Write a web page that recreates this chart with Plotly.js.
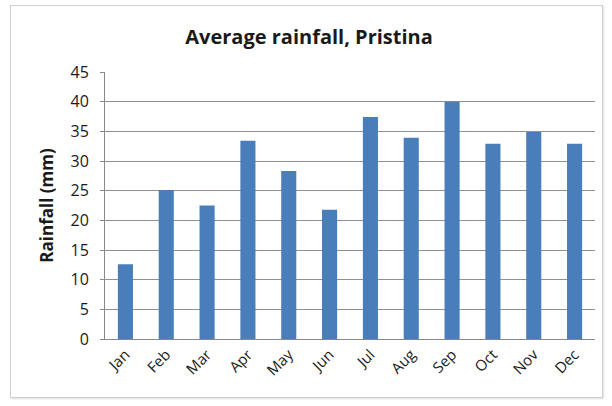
<!DOCTYPE html>
<html><head><meta charset="utf-8">
<script src="https://cdn.plot.ly/plotly-3.0.1.min.js"></script>
<style>
html,body{margin:0;padding:0;background:#fff;}
#wrap{position:relative;width:612px;height:406px;}
#frame{position:absolute;left:10px;top:5px;width:591px;height:391px;border:1px solid #cfcfcf;box-shadow:1px 1px 2px #ddd;pointer-events:none;}
</style>
</head><body>
<div id="wrap"><div id="chart" style="width:612px;height:406px;"></div><div id="frame"></div></div>
<script>
const months = ["Jan","Feb","Mar","Apr","May","Jun","Jul","Aug","Sep","Oct","Nov","Dec"];
const rainfall = [12.6, 25.1, 22.5, 33.4, 28.3, 21.8, 37.4, 33.9, 40.0, 32.9, 34.9, 32.9];
const yTicks = [0,5,10,15,20,25,30,35,40,45];

const font = "Open Sans, Liberation Sans, sans-serif";
Plotly.newPlot("chart", [{
  type: "bar",
  x: months,
  y: rainfall,
  marker: {color: "#4a7ebb"},
  width: 0.37,
  hoverinfo: "skip"
}], {
  width: 612, height: 406,
  margin: {l: 105, r: 17, t: 72, b: 67, pad: 0},
  paper_bgcolor: "rgba(0,0,0,0)",
  plot_bgcolor: "#fff",
  title: {text: "<b>Average rainfall, Pristina</b>", x: 0.505, xanchor: "center", y: 0.91, yanchor: "middle",
          font: {family: font, size: 20, color: "#1a1a1a"}},
  showlegend: false,
  xaxis: {
    type: "category", tickangle: -45, tickfont: {family: font, size: 15, color: "#1a1a1a"},
    showline: true, linecolor: "#888", linewidth: 1, ticks: "", showgrid: false, fixedrange: true
  },
  yaxis: {
    range: [0, 45], tickvals: yTicks, ticktext: yTicks.map(String),
    tickfont: {family: font, size: 16, color: "#1a1a1a"},
    showline: true, linecolor: "#888", linewidth: 1,
    ticks: "outside", ticklen: 4, tickcolor: "#888", ticklabelstandoff: 8,
    showgrid: true, gridcolor: "#909090", gridwidth: 1, zeroline: false,
    title: {text: "<b>Rainfall (mm)</b>", font: {family: font, size: 17, color: "#1a1a1a"}, standoff: 12},
    fixedrange: true
  }
}, {displayModeBar: false, staticPlot: true});
</script>
</body></html>
